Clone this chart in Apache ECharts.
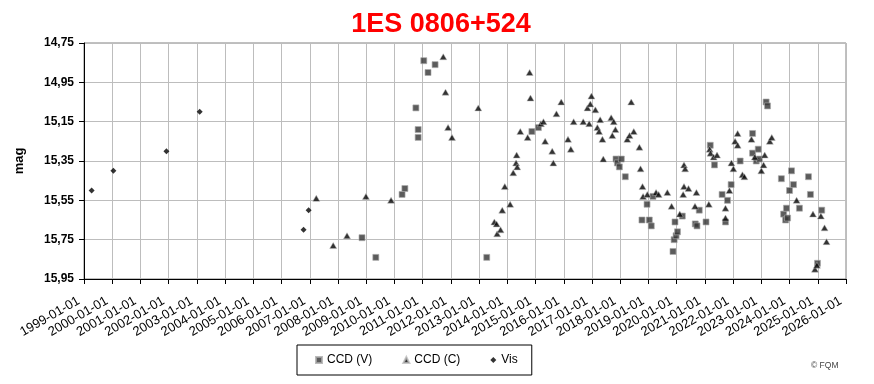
<!DOCTYPE html>
<html><head><meta charset="utf-8">
<script src="https://cdn.jsdelivr.net/npm/echarts@6/dist/echarts.min.js"></script>
<style>html,body{margin:0;padding:0;background:#fff}#c{width:874px;height:384px}</style>
</head><body><div id="c"></div>
<script>
const titleText = '1ES 0806+524';
const seriesNames = ['CCD (V)', 'CCD (C)', 'Vis'];
const xTickLabels = ['1999-01-01','2000-01-01','2001-01-01','2002-01-01','2003-01-01','2004-01-01','2005-01-01','2006-01-01','2007-01-01','2008-01-01','2009-01-01','2010-01-01','2011-01-01','2012-01-01','2013-01-01','2014-01-01','2015-01-01','2016-01-01','2017-01-01','2018-01-01','2019-01-01','2020-01-01','2021-01-01','2022-01-01','2023-01-01','2024-01-01','2025-01-01','2026-01-01'];
const yTickLabels = ['14,75','14,95','15,15','15,35','15,55','15,75','15,95'];

// [decimal year, magnitude]
const ccdV = [
[2008.85,15.74],[2009.34,15.84],[2010.27,15.52],[2010.37,15.49],[2010.76,15.08],[2010.84,15.19],[2010.84,15.23],
[2011.04,14.84],[2011.19,14.90],[2011.44,14.86],[2013.27,15.84],[2014.87,15.20],[2015.10,15.18],
[2017.85,15.34],[2017.90,15.36],[2017.97,15.38],[2018.04,15.34],[2018.18,15.43],[2018.77,15.65],[2018.95,15.57],
[2019.03,15.65],[2019.10,15.68],[2019.16,15.53],[2019.87,15.81],[2019.91,15.75],[2019.98,15.73],[2020.03,15.71],
[2019.94,15.66],[2020.20,15.63],[2020.66,15.67],[2020.72,15.68],[2020.80,15.60],[2021.04,15.66],[2021.19,15.27],
[2021.34,15.37],[2021.61,15.52],[2021.73,15.66],[2021.80,15.55],[2021.93,15.47],[2022.25,15.35],[2022.69,15.21],
[2022.69,15.31],[2022.82,15.35],[2022.89,15.29],[2022.93,15.34],[2023.17,15.05],[2023.22,15.07],[2023.71,15.44],
[2023.79,15.62],[2023.86,15.65],[2023.89,15.59],[2023.93,15.64],[2024.00,15.50],[2024.07,15.40],[2024.14,15.47],
[2024.35,15.59],[2024.67,15.43],[2024.74,15.52],[2024.99,15.87],[2025.14,15.60]
];
const ccdC = [
[2007.23,15.54],[2007.83,15.78],[2008.32,15.73],[2008.99,15.53],[2009.88,15.55],[2011.73,14.82],[2011.81,15.00],
[2011.90,15.18],[2012.04,15.23],[2012.97,15.08],[2013.54,15.66],[2013.62,15.67],[2013.64,15.72],[2013.76,15.70],
[2013.82,15.60],[2013.91,15.48],[2014.10,15.57],[2014.21,15.41],[2014.31,15.36],[2014.35,15.38],[2014.33,15.32],
[2014.46,15.20],[2014.72,15.23],[2014.79,14.90],[2014.82,15.03],[2015.19,15.16],[2015.28,15.15],[2015.34,15.25],
[2015.59,15.30],[2015.63,15.36],[2015.74,15.11],[2015.91,15.05],[2016.15,15.24],[2016.25,15.29],[2016.35,15.15],
[2016.69,15.15],[2016.84,15.08],[2016.90,15.16],[2016.94,15.06],[2016.98,15.02],[2017.12,15.09],[2017.19,15.18],
[2017.25,15.20],[2017.29,15.14],[2017.37,15.24],[2017.40,15.34],[2017.68,15.13],[2017.72,15.22],[2017.77,15.15],
[2017.83,15.19],[2018.25,15.24],[2018.33,15.22],[2018.39,15.05],[2018.48,15.20],[2018.68,15.28],[2018.72,15.39],
[2018.79,15.48],[2018.81,15.53],[2018.96,15.52],[2019.27,15.51],[2019.36,15.52],[2019.67,15.51],[2019.82,15.58],
[2020.11,15.62],[2020.23,15.52],[2020.26,15.48],[2020.26,15.37],[2020.30,15.39],[2020.42,15.49],[2020.65,15.58],
[2020.70,15.51],[2021.14,15.57],[2021.17,15.29],[2021.20,15.31],[2021.31,15.33],[2021.43,15.32],[2021.73,15.59],
[2021.73,15.64],[2021.87,15.50],[2021.94,15.36],[2022.01,15.39],[2022.07,15.25],[2022.16,15.21],[2022.16,15.27],
[2022.33,15.42],[2022.40,15.43],[2022.65,15.24],[2022.77,15.33],[2023.00,15.40],[2023.08,15.37],[2023.12,15.32],
[2023.30,15.25],[2023.37,15.23],[2024.25,15.55],[2024.83,15.62],[2024.90,15.90],[2024.97,15.88],[2025.11,15.63],
[2025.24,15.69],[2025.31,15.76]
];
const vis = [
[1999.27,15.50],[2000.04,15.40],[2001.92,15.30],[2003.10,15.10],[2006.78,15.70],[2006.96,15.60]
];

const FONT = 'Liberation Sans, Arial, sans-serif';
const chart = echarts.init(document.getElementById('c'), null, {renderer: 'canvas'});
chart.setOption({
  animation: false,
  backgroundColor: '#fff',
  title: {
    text: titleText, left: 436, top: 6, textAlign: 'center',
    textStyle: {color: '#ff0000', fontWeight: 'bold', fontSize: 27, fontFamily: FONT}
  },
  grid: {left: 84, right: 28, top: 43, bottom: 105, show: true, borderColor: '#808080', borderWidth: 1, backgroundColor: 'transparent'},
  legend: {
    left: 297, top: 345, orient: 'horizontal',
    borderColor: '#000', borderWidth: 1, padding: [9, 14, 9, 18],
    itemWidth: 6, itemHeight: 6, itemGap: 30,
    textStyle: {fontSize: 12, fontFamily: FONT, color: '#000'},
    data: [
      {name: seriesNames[0], icon: 'rect'},
      {name: seriesNames[1], icon: 'triangle'},
      {name: seriesNames[2], icon: 'diamond'}
    ]
  },
  graphic: [{
    type: 'text', left: 811, top: 361,
    style: {text: '© FQM', fontSize: 8.5, fontFamily: FONT, fill: '#444'}
  }],
  xAxis: {
    type: 'value', min: 1999, max: 2026, interval: 1,
    axisLine: {show: true, lineStyle: {color: '#000', width: 1}},
    axisTick: {show: true, length: 5, lineStyle: {color: '#000'}},
    splitLine: {show: true, lineStyle: {color: '#bdbdbd', width: 1}},
    axisLabel: {
      rotate: 30, margin: 18, fontSize: 13, fontFamily: FONT, color: '#000',
      padding: [0, 6, 0, 0],
      formatter: v => xTickLabels[Math.round(v - 1999)] || ''
    }
  },
  yAxis: {
    type: 'value', inverse: true, min: 14.75, max: 15.95, interval: 0.2,
    name: 'mag', nameLocation: 'middle', nameGap: 58, nameRotate: 90,
    nameTextStyle: {fontSize: 13, fontWeight: 'bold', fontFamily: FONT, color: '#000'},
    axisLine: {show: true, lineStyle: {color: '#000', width: 1}},
    axisTick: {show: true, length: 5, lineStyle: {color: '#000'}},
    splitLine: {show: true, lineStyle: {color: '#bdbdbd', width: 1}},
    axisLabel: {
      margin: 10, fontSize: 12, fontWeight: 'bold', fontFamily: FONT, color: '#000',
      formatter: v => yTickLabels[Math.round((v - 14.75) / 0.2)] || ''
    }
  },
  series: [
    {name: seriesNames[0], type: 'scatter', symbol: 'rect', symbolSize: 6, data: ccdV,
     itemStyle: {color: '#333', borderColor: '#aaa', borderWidth: 0.8}},
    {name: seriesNames[1], type: 'scatter', symbol: 'triangle', symbolSize: [7, 6], data: ccdC,
     itemStyle: {color: '#000', borderColor: '#bbb', borderWidth: 0.6}},
    {name: seriesNames[2], type: 'scatter', symbol: 'diamond', symbolSize: 6, data: vis,
     itemStyle: {color: '#000'}}
  ]
});
</script></body></html>
